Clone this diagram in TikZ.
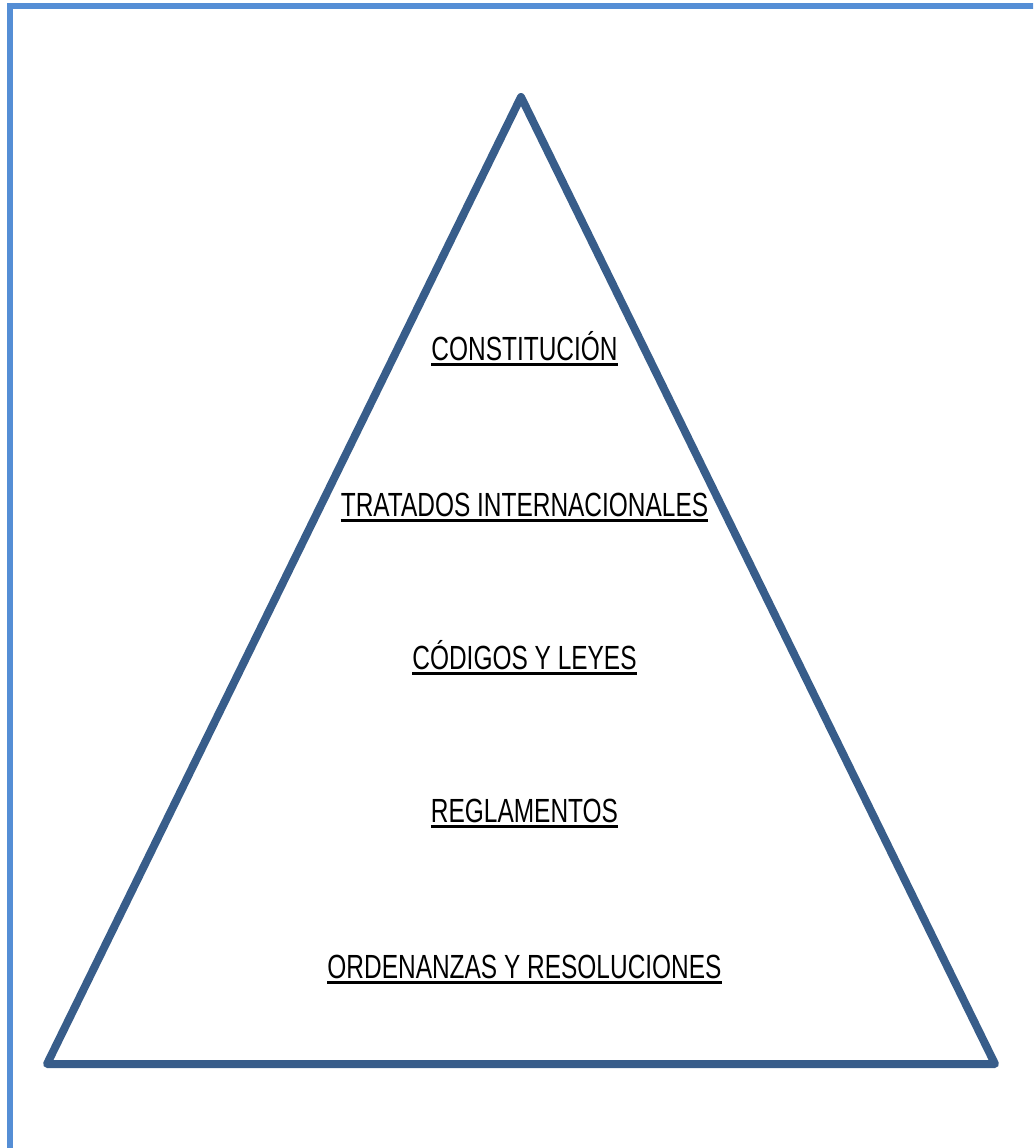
\documentclass[tikz,border=0pt]{standalone}
\usepackage{fontspec}
\newfontfamily\nivelfont{Liberation Sans}[FakeStretch=0.73]
\usepackage{xcolor}
\definecolor{marco}{HTML}{558ED5}
\definecolor{lado}{HTML}{385D8A}
\tikzset{
  borde/.style={draw=marco, line width=6pt},
  piramide/.style={draw=lado, line width=8pt, line join=round, line cap=round},
  nivel/.style={inner sep=0pt, anchor=base, text=black,
    font=\nivelfont\fontsize{33.5}{40}\selectfont},
  subrayado/.style={draw=black, line width=3pt}
}

\begin{document}
\begin{tikzpicture}[x=1pt,y=-1pt]
    \useasboundingbox (0,0) rectangle (1033,1148);
    \clip (0,0) rectangle (1033,1148);
    \draw[borde] (9.5,6) rectangle (1050,1170);
    \coordinate (V) at (521,97);
    \coordinate (I) at (47,1064);
    \coordinate (D) at (995,1064);
    \draw[piramide] (V) -- (I) -- (D) -- cycle;
    \node[nivel] (const) at (524.5,360) {CONSTITUCIÓN};
    \node[nivel] (tratados) at (524.5,516) {TRATADOS INTERNACIONALES};
    \node[nivel] (codigos) at (524.5,669) {CÓDIGOS Y LEYES};
    \node[nivel] (reglamentos) at (524.5,822) {REGLAMENTOS};
    \node[nivel] (ordenanzas) at (524.5,978) {ORDENANZAS Y RESOLUCIONES};
    \foreach \n in {const,tratados,codigos,reglamentos,ordenanzas}
        \draw[subrayado] ([yshift=-4.5pt]\n.base west) -- ([yshift=-4.5pt]\n.base east);
\end{tikzpicture}
\end{document}
